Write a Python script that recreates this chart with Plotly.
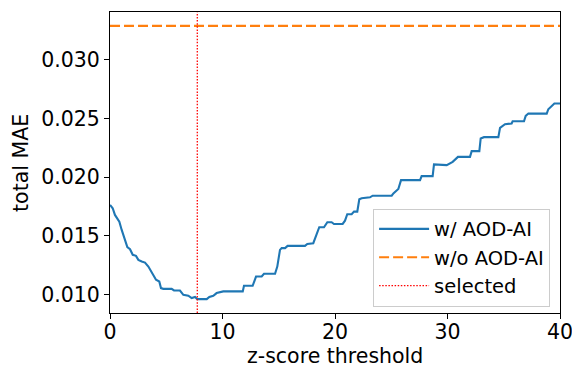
import plotly.graph_objects as go

# z-score threshold vs total MAE (w/ AOD-AI)
z_threshold = [0.00, 0.24, 0.44, 0.65, 0.83, 1.04, 1.33, 1.54, 1.78, 2.02, 2.31, 2.52, 2.82, 3.11,
               3.41, 3.80, 4.09, 4.38, 4.53, 4.74, 5.48, 5.69, 6.22, 6.52, 6.96, 7.26, 7.56, 7.76,
               8.60, 8.83, 9.18, 9.48, 9.78, 10.07, 11.80, 11.91, 12.68, 12.83, 12.98, 13.48, 13.69,
               14.67, 14.87, 15.11, 15.26, 15.56, 15.79, 17.33, 17.54, 18.07, 18.37, 18.60, 19.02,
               19.32, 19.70, 19.91, 20.68, 20.89, 21.09, 21.48, 21.69, 21.98, 22.16, 22.37, 23.11,
               23.35, 25.04, 25.19, 25.63, 25.87, 27.56, 27.70, 28.68, 28.80, 29.93, 30.46, 30.93,
               32.00, 32.15, 32.83, 32.95, 33.24, 34.52, 34.67, 35.11, 35.70, 35.79, 36.80, 36.95,
               37.19, 38.82, 38.96, 39.50, 40.00]
mae_with = [0.01763, 0.01735, 0.01678, 0.01641, 0.01621, 0.01550, 0.01465, 0.01403, 0.01386, 0.01338,
            0.01329, 0.01295, 0.01281, 0.01272, 0.01238, 0.01168, 0.01125, 0.01111, 0.01054, 0.01048,
            0.01048, 0.01034, 0.01034, 0.00997, 0.00989, 0.00969, 0.00978, 0.00960, 0.00960, 0.00978,
            0.00989, 0.01012, 0.01017, 0.01026, 0.01026, 0.01074, 0.01074, 0.01125, 0.01153, 0.01153,
            0.01176, 0.01176, 0.01238, 0.01380, 0.01395, 0.01395, 0.01414, 0.01414, 0.01431, 0.01437,
            0.01508, 0.01573, 0.01573, 0.01616, 0.01616, 0.01601, 0.01601, 0.01629, 0.01684, 0.01684,
            0.01706, 0.01706, 0.01811, 0.01820, 0.01828, 0.01842, 0.01842, 0.01862, 0.01899, 0.01975,
            0.01975, 0.02009, 0.02009, 0.02109, 0.02103, 0.02131, 0.02173, 0.02173, 0.02222, 0.02222,
            0.02330, 0.02341, 0.02341, 0.02420, 0.02452, 0.02458, 0.02477, 0.02477, 0.02522, 0.02542,
            0.02542, 0.02579, 0.02628, 0.02628]

mae_without = 0.0329
selected_threshold = 7.76

x_range = [0, 40]
y_range = [0.00842, 0.03408]
x_ticks = [0, 10, 20, 30, 40]
y_ticks = [0.010, 0.015, 0.020, 0.025, 0.030]
x_title = "z-score threshold"
y_title = "total MAE"

FONT = "DejaVu Sans"
FS = 20.5

fig = go.Figure()
fig.add_trace(go.Scatter(x=z_threshold, y=mae_with, mode="lines", name="w/ AOD-AI",
                         line=dict(color="#1f77b4", width=2.1)))
fig.add_trace(go.Scatter(x=x_range, y=[mae_without, mae_without], mode="lines", name="w/o AOD-AI",
                         line=dict(color="#ff7f0e", width=2.1, dash="10px,4px")))
fig.add_trace(go.Scatter(x=[selected_threshold, selected_threshold], y=y_range, mode="lines",
                         name="selected", line=dict(color="#ff0000", width=1.3, dash="1.5px,1.6px")))

fig.update_layout(
    width=572, height=367,
    margin=dict(l=110, r=12, t=12, b=54, autoexpand=False),
    paper_bgcolor="white", plot_bgcolor="white",
    font=dict(family=FONT, size=FS, color="black"),
    showlegend=True,
    legend=dict(x=0.978, y=0.021, xanchor="right", yanchor="bottom",
                bgcolor="rgba(255,255,255,0.8)", bordercolor="#cccccc", borderwidth=1,
                font=dict(family=FONT, size=19.5, color="black"),
                tracegroupgap=0, itemwidth=50),
    annotations=[
        dict(text=x_title, xref="paper", yref="paper", x=0.5, y=-0.1435,
             xanchor="center", yanchor="middle", showarrow=False, borderpad=0,
             font=dict(family=FONT, size=FS, color="black")),
        dict(text=y_title, xref="paper", yref="paper", x=-0.199, y=0.5, textangle=-90,
             xanchor="center", yanchor="middle", showarrow=False,
             font=dict(family=FONT, size=FS, color="black")),
    ],
)
fig.update_xaxes(range=x_range, tickvals=x_ticks, ticks="outside", ticklen=5, tickwidth=1,
                 tickcolor="black", showline=True, linecolor="black", linewidth=1, mirror=True,
                 showgrid=False, zeroline=False, automargin=False, ticklabeloverflow="allow",
                 ticklabelstandoff=-5)
fig.update_yaxes(range=y_range, tickvals=y_ticks, tickformat=".3f", ticks="outside", ticklen=5,
                 tickwidth=1, tickcolor="black", showline=True, linecolor="black", linewidth=1,
                 mirror=True, showgrid=False, zeroline=False, automargin=False,
                 ticklabeloverflow="allow")

fig.write_html("out.html")
